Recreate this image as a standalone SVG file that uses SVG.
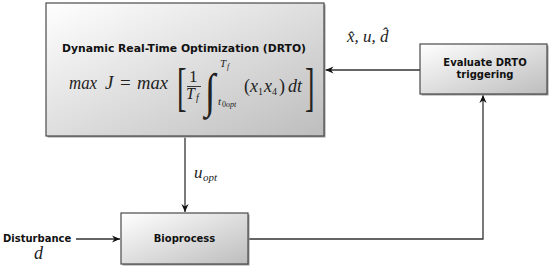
<svg xmlns="http://www.w3.org/2000/svg" width="550" height="267" viewBox="0 0 550 267">
<defs>
<linearGradient id="g" x1="0" y1="0" x2="1" y2="1">
<stop offset="0" stop-color="#ffffff"/>
<stop offset="1" stop-color="#bdbdbd"/>
</linearGradient>
<marker id="ah" viewBox="-8 -4 9 8" refX="0" refY="0" markerWidth="9" markerHeight="8" markerUnits="userSpaceOnUse" orient="auto">
<path d="M0,0 L-8,-3.6 L-5.5,0 L-8,3.6 z" fill="#111"/>
</marker>
</defs>
<style>
.box{fill:url(#g);stroke:#4a4a4a;stroke-width:1.2}
.sh{fill:#9a9a9a}
.lbl{font-family:"DejaVu Sans",sans-serif;font-weight:bold;font-size:10px;fill:#111}
.m{font-family:"Liberation Serif","Times New Roman",serif;font-style:italic;fill:#222}
.mu{font-family:"Liberation Serif","Times New Roman",serif;fill:#222}
.c{fill:none;stroke:#333;stroke-width:1.3}
</style>
<g id="connectors">
<path class="c" d="M420,70 L325.5,70" marker-end="url(#ah)"/>
<path class="c" d="M185,137.5 L185,212" marker-end="url(#ah)"/>
<path class="c" d="M76,239 L120,239" marker-end="url(#ah)"/>
<path class="c" d="M249,239 L483,239 L483,95" marker-end="url(#ah)"/>
<text class="m" x="347" y="42" font-size="17">x̂, u, d̂</text>
<text class="m" x="194" y="178" font-size="17">u</text>
<text class="m" x="203" y="181" font-size="11">opt</text>
</g>
<g id="drto">
<rect class="sh" x="47.5" y="4.5" width="278" height="133"/>
<rect class="box" x="46" y="3" width="278" height="133"/>
<text class="lbl" x="62" y="52" textLength="244" lengthAdjust="spacingAndGlyphs">Dynamic Real-Time Optimization (DRTO)</text>
<text class="m" x="69" y="89" font-size="19" textLength="28" lengthAdjust="spacingAndGlyphs">max</text>
<text class="m" x="105" y="89" font-size="19">J</text>
<text class="mu" x="120" y="89" font-size="19">=</text>
<text class="m" x="137" y="89" font-size="19" textLength="31" lengthAdjust="spacingAndGlyphs">max</text>
<text class="mu" x="0" y="0" font-size="52" transform="translate(177,105) scale(0.55,1)">[</text>
<text class="mu" x="189" y="82" font-size="17">1</text>
<line x1="187" y1="86.5" x2="201" y2="86.5" stroke="#222" stroke-width="0.9"/>
<text class="m" x="186" y="99" font-size="16">T</text>
<text class="m" x="196" y="101" font-size="10">f</text>
<text class="m" x="0" y="0" font-size="48" transform="translate(205,107) scale(0.8,1)">∫</text>
<text class="m" x="220" y="67" font-size="11">T</text>
<text class="m" x="227" y="69" font-size="8">f</text>
<text class="m" x="218" y="105" font-size="11">t</text>
<text class="mu" x="222" y="107" font-size="8">0</text>
<text class="m" x="226" y="107" font-size="8">opt</text>
<text class="mu" x="244" y="92" font-size="18">(</text>
<text class="m" x="250" y="92" font-size="18">x</text>
<text class="mu" x="258" y="95" font-size="10">1</text>
<text class="m" x="264" y="92" font-size="18">x</text>
<text class="mu" x="272" y="95" font-size="10">4</text>
<text class="mu" x="279" y="92" font-size="18">)</text>
<text class="m" x="288" y="92" font-size="18">dt</text>
<text class="mu" x="0" y="0" font-size="52" transform="translate(305,105) scale(0.55,1)">]</text>
</g>
<g id="evaluate">
<rect class="sh" x="421.5" y="45.5" width="127" height="50"/>
<rect class="box" x="420" y="44" width="127" height="50"/>
<text class="lbl" x="485" y="66" text-anchor="middle">Evaluate DRTO</text>
<text class="lbl" x="485" y="78" text-anchor="middle">triggering</text>
</g>
<g id="bioprocess">
<rect class="sh" x="122.5" y="214.5" width="127" height="51"/>
<rect class="box" x="121" y="213" width="127" height="51"/>
<text class="lbl" x="184.5" y="242" text-anchor="middle">Bioprocess</text>
</g>
<g id="disturbance">
<text class="lbl" x="3" y="242">Disturbance</text>
<text class="m" x="34" y="259" font-size="18">d</text>
</g>
</svg>
